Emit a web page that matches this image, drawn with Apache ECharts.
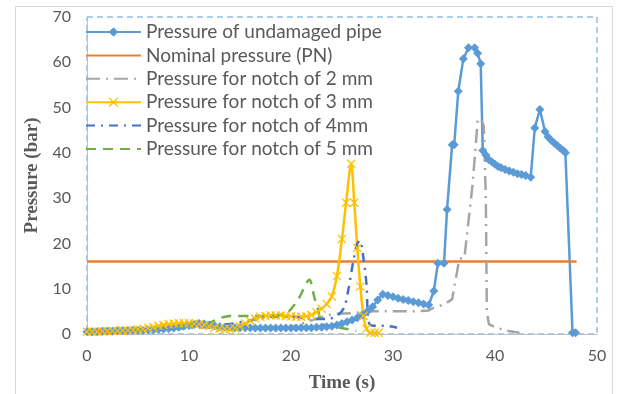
<!DOCTYPE html>
<html>
<head>
<meta charset="utf-8">
<script src="https://cdn.jsdelivr.net/npm/echarts@6/dist/echarts.min.js"></script>
<style>
html,body{margin:0;padding:0;background:#fff;}
#c{width:621px;height:394px;}
</style>
</head>
<body>
<div id="c"></div>
<script>
// ---- data ----
var seriesNames = ['Pressure of undamaged pipe','Nominal pressure (PN)','Pressure for notch of 2 mm','Pressure for notch of 3 mm','Pressure for notch of 4mm','Pressure for notch of 5 mm'];
var xTicks = [0,10,20,30,40,50];
var yTicks = [0,10,20,30,40,50,60,70];

var tUndamaged = [0,0.5,1,1.5,2,2.5,3,3.5,4,4.5,5,5.5,6,6.5,7,7.5,8,8.5,9,9.5,10,10.5,11,11.5,12,12.5,13,13.5,14,14.5,15,15.5,16,16.5,17,17.5,18,18.5,19,19.5,20,20.5,21,21.5,22,22.5,23,23.5,24,24.5,25,25.5,26,26.5,27,27.5,28,28.5,29,29.5,30,30.5,31,31.5,32,32.5,33,33.5,34,34.4,35,35.3,35.8,36,36.4,36.9,37.4,38,38.3,38.6,38.8,39.1,39.4,39.7,40,40.3,40.6,41,41.4,41.8,42.2,42.6,43,43.5,43.9,44.4,44.9,45.2,45.5,45.8,46.1,46.4,46.7,46.9,47.6,47.9];
var pUndamaged = [0.5,0.5,0.5,0.6,0.6,0.6,0.7,0.7,0.7,0.8,0.8,0.8,0.9,0.9,1.0,1.1,1.2,1.3,1.5,1.7,1.9,2.1,2.3,2.2,2.0,1.8,1.6,1.5,1.5,1.4,1.4,1.4,1.4,1.3,1.3,1.3,1.3,1.3,1.3,1.3,1.3,1.3,1.4,1.4,1.4,1.5,1.5,1.6,1.7,2.0,2.3,2.7,3.1,3.6,4.2,5.0,6.0,7.5,8.8,8.5,8.2,7.9,7.6,7.4,7.1,6.9,6.6,6.4,9.5,15.6,15.6,27.5,41.8,41.8,53.6,60.8,63.2,63.2,62,59.7,40.5,39.5,38.5,38,37.5,37,36.7,36.3,36,35.7,35.4,35.2,35,34.6,45.5,49.6,44.7,43.5,42.8,42.2,41.6,41,40.5,40,0.3,0.3];

var tNominal = [0,48];
var pNominal = [16,16];

var tNotch2 = [0,2,4,6,8,10,12,14,16,18,20,22,24,26,28,30,32,33.5,34,35,35.8,36.3,36.5,37,37.3,37.8,38.3,38.6,38.9,39.1,39.2,39.4,40,41.2,42.4];
var pNotch2 = [0.5,0.6,0.7,0.8,1.0,1.3,1.5,1.5,1.5,1.5,1.5,3.0,4.4,4.6,5.0,5.0,5.0,5.2,5.8,6.5,7.7,14,16.6,16.8,22.8,33,47,47.6,46,30,5,2.2,1.5,0.7,0.3];

var tNotch3 = [0,0.5,1,1.5,2,2.5,3,3.5,4,4.5,5,5.5,6,6.5,7,7.5,8,8.5,9,9.5,10,10.5,11,11.5,12,12.5,13,13.5,14,14.5,15,15.5,16,16.5,17,17.5,18,18.5,19,19.5,20,20.5,21,21.5,22,22.5,23,23.5,24,24.5,25,25.4,25.9,26.2,26.5,26.8,27.1,27.4,27.8,28.2,28.6];
var pNotch3 = [0.5,0.5,0.5,0.6,0.6,0.7,0.7,0.8,0.8,0.9,1.0,1.1,1.3,1.5,1.8,2.0,2.2,2.3,2.4,2.4,2.4,2.3,2.2,2.0,1.7,1.4,1.2,1.1,1.1,1.3,1.7,2.3,2.9,3.4,3.8,4.0,4.1,4.1,4.1,4.0,3.9,3.8,3.8,3.9,4.2,4.8,5.6,6.6,8.3,12.8,21,29,37.6,29,19,10.5,4,1.2,0.3,0.3,0.3];

var tNotch4 = [0,2,4,6,8,10,12,14,16,18,20,22,23.5,24.5,25.2,25.6,26.1,26.5,26.8,27,27.4,27.5,27.7,28.5,29.2,30.4];
var pNotch4 = [0.5,0.6,0.7,0.9,1.1,1.6,1.8,2.2,3.0,3.8,3.8,3.3,3.3,4.0,5.8,9.5,16,20,20.6,18.4,11,5.8,2.2,1.8,1.8,1.4];

var tNotch5 = [0,2,4,6,8,10,12,13,14,16,18,19.5,20,20.8,21.8,22.3,22.6,23.1,24.8,26.4];
var pNotch5 = [0.5,0.6,0.8,1.0,1.3,2.0,2.5,3.5,4.0,4.0,4.0,4.5,5.5,8,12,8,5.8,2.2,1.4,0.7];

function zip(t,p){ return t.map(function(v,i){ return [v,p[i]]; }); }

var xSym = 'path://M0,1 L1,0 L5,4 L9,0 L10,1 L6,5 L10,9 L9,10 L5,6 L1,10 L0,9 L4,5 Z';
var txt = '#595959';
var hideSym = {opacity:0};

var chart = echarts.init(document.getElementById('c'), null, {renderer:'canvas'});
chart.setOption({
  animation:false,
  backgroundColor:'#fff',
  graphic:[{type:'rect', shape:{x:15.5,y:6.5,width:597,height:400}, style:{fill:'none', stroke:'#D9D9D9', lineWidth:1}, z:-10}],
  grid:{left:87, right:24, top:17, bottom:60, containLabel:false, outerBoundsMode:'none',
    show:true, borderColor:'#5B9BD5', borderWidth:1, borderType:[6,4], backgroundColor:'transparent'},
  legend:{
    orient:'vertical', left:80, top:17, itemWidth:55, itemHeight:12, itemGap:3.4,
    textStyle:{fontFamily:'Lato', fontSize:19, color:txt, lineHeight:20},
    data:[
      {name:seriesNames[0]},
      {name:seriesNames[1], itemStyle:hideSym},
      {name:seriesNames[2], itemStyle:hideSym},
      {name:seriesNames[3]},
      {name:seriesNames[4], itemStyle:hideSym},
      {name:seriesNames[5], itemStyle:hideSym}
    ]
  },
  xAxis:{type:'value', min:0, max:50, interval:10,
    name:'Time (s)', nameLocation:'middle', nameGap:40,
    nameTextStyle:{fontFamily:'Liberation Serif', fontWeight:'bold', fontSize:19, color:txt},
    axisLine:{show:true, lineStyle:{color:'#BFBFBF'}}, axisTick:{show:false}, splitLine:{show:false},
    axisLabel:{fontFamily:'Lato', fontSize:16, color:txt, margin:14}},
  yAxis:{type:'value', min:0, max:70, interval:10,
    name:'Pressure (bar)', nameLocation:'middle', nameGap:42,
    nameTextStyle:{fontFamily:'Liberation Serif', fontWeight:'bold', fontSize:19, color:txt},
    axisLine:{show:true, lineStyle:{color:'#BFBFBF'}}, axisTick:{show:false}, splitLine:{show:false},
    axisLabel:{fontFamily:'Lato', fontSize:16, color:txt, margin:16}},
  series:[
    {name:seriesNames[0], type:'line', data:zip(tUndamaged,pUndamaged), symbol:'diamond', symbolSize:9,
      itemStyle:{color:'#5B9BD5'}, lineStyle:{color:'#5B9BD5', width:2.5}},
    {name:seriesNames[1], type:'line', data:zip(tNominal,pNominal), symbol:'none',
      itemStyle:{color:'#ED7D31'}, lineStyle:{color:'#ED7D31', width:2.5}},
    {name:seriesNames[2], type:'line', data:zip(tNotch2,pNotch2), symbol:'none',
      itemStyle:{color:'#A5A5A5'}, lineStyle:{color:'#A5A5A5', width:2.5, type:[14,6,2,6]}},
    {name:seriesNames[3], type:'line', data:zip(tNotch3,pNotch3), symbol:xSym, symbolSize:9, smooth:0.3,
      itemStyle:{color:'#FFC000'}, lineStyle:{color:'#FFC000', width:2.5}},
    {name:seriesNames[4], type:'line', data:zip(tNotch4,pNotch4), symbol:'none', smooth:0.3,
      itemStyle:{color:'#4472C4'}, lineStyle:{color:'#4472C4', width:2.5, type:[9,6,2,6]}},
    {name:seriesNames[5], type:'line', data:zip(tNotch5,pNotch5), symbol:'none', smooth:0.3,
      itemStyle:{color:'#70AD47'}, lineStyle:{color:'#70AD47', width:2.5, type:[10,7]}}
  ]
});
</script>
</body>
</html>
